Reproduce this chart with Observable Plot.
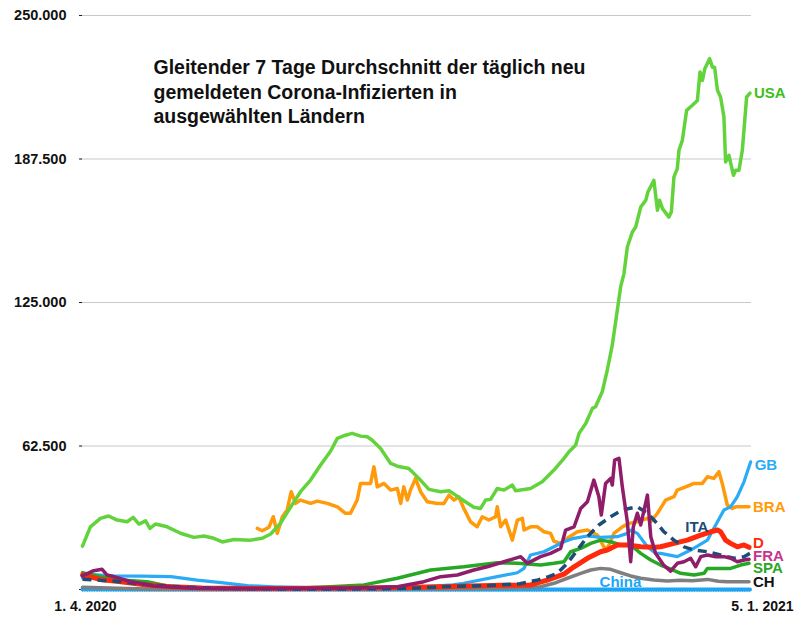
<!DOCTYPE html>
<html>
<head>
<meta charset="utf-8">
<script src="https://cdn.jsdelivr.net/npm/d3@7"></script>
<script src="https://cdn.jsdelivr.net/npm/@observablehq/plot@0.6"></script>
<style>
  html, body { margin: 0; padding: 0; background: #fff; }
  #chart svg { display: block; }
  #chart text { font-family: "Liberation Sans", Arial, Helvetica, sans-serif; }
</style>
</head>
<body>
<div id="chart"></div>
<script>
// Tag seit 1. 4. 2020, gleitender 7-Tage-Durchschnitt
const startDate = "2020-04-01";
const endDate = "2021-01-05";
const yTicks = [0, 62500, 125000, 187500, 250000];
const xTickLabels = ["1. 4. 2020", "5. 1. 2021"];
const title = "Gleitender 7 Tage Durchschnitt der täglich neu\ngemeldeten Corona-Infizierten in\nausgewählten Ländern";

const USA = [[0,18900],[3.3,27300],[7.5,31000],[10.9,32000],[14.5,30250],[18.7,29500],[21.2,31400],[23.6,28500],[26.4,29900],[28.2,26600],[30.5,28500],[35.4,27300],[41,24500],[46.6,22700],[50.8,23300],[54.9,22300],[58.5,20700],[63.3,21800],[70.3,21500],[75.2,22300],[78.7,24150],[82.8,28800],[87,35800],[91.2,42600],[95.4,47650],[99.6,54200],[103.8,60300],[106.6,65800],[110,67200],[112.8,68000],[116.3,66800],[119.1,66500],[121.2,65000],[124.7,61400],[128.9,54900],[131.7,53700],[136.5,52700],[140.7,48400],[144.9,43600],[149.8,42600],[153.3,43000],[156.1,41100],[159.5,38650],[163.7,35800],[166.5,35300],[168.6,38950],[170.7,39250],[173.5,44000],[176.3,43300],[179.8,45500],[181.2,43000],[187.4,44000],[192.3,46900],[197.2,52000],[201.4,57100],[203.5,60000],[206.3,62900],[207.7,68000],[210.5,72300],[213.3,78900],[214.6,79600],[217.4,86100],[219.5,95500],[221.6,106400],[223.7,121600],[225.1,131800],[226.5,137600],[227.9,149200],[230,155700],[231.4,157900],[233.5,166600],[235.6,169500],[236.5,173100],[239,178200],[240.5,165200],[241.4,169500],[242.6,165900],[245.3,162200],[246.3,164400],[247.4,179700],[248.8,183300],[249.5,191300],[250.9,195600],[252.7,208700],[255.1,210900],[257.2,213000],[258.3,225400],[259.3,221700],[260.3,226800],[262.3,231200],[263.5,227500],[264.4,227500],[265.6,217400],[266.9,214500],[268.3,205800],[269,186200],[270.4,189100],[272.3,180400],[273.2,182600],[274.6,182600],[276,191300],[277.8,214500],[279.2,216200]];

const BRA = [[73.1,26600],[75.2,25600],[78,27100],[79.8,31700],[81.5,24450],[83.6,31700],[85.6,34600],[87.3,42600],[89.1,37500],[91.2,38950],[95.4,37500],[98.2,38500],[102.4,37500],[106.6,36000],[110,33200],[112.1,33200],[114.9,38950],[116.3,46200],[120.5,46200],[121.9,53400],[123.3,44700],[126.1,46200],[128.9,43300],[131.7,44000],[133.1,37500],[134.4,44700],[135.9,38950],[137.2,43300],[139.3,48400],[141.4,42600],[144.2,38200],[148.4,37500],[151.2,37500],[153.3,41100],[155.4,38950],[157.4,40400],[159.5,35300],[162.3,29500],[165.1,27300],[167.2,31700],[170,30250],[172.8,31700],[173.5,36000],[174.9,27300],[177,30250],[179.8,21500],[181.9,30250],[184,31000],[184.7,25900],[187.4,27300],[190.3,27300],[193,25150],[195.8,24450],[197.2,21000],[200,20100],[202.8,22300],[207,25150],[211.2,25900],[215.4,23700],[218.8,17200],[220.2,19400],[222.3,24450],[225.8,27300],[228.6,28800],[232.1,29500],[236.3,31000],[237.7,29500],[240.5,33200],[243.9,38950],[247.4,40400],[248.8,43300],[252.3,44700],[255.8,46200],[259.3,46200],[261.4,49100],[264.1,48400],[266.2,51300],[267.6,46200],[269.7,36800],[271.8,35300],[273.2,36000],[275.3,36000],[278.8,36000]];

const GB = [[0,5000],[4,6500],[13,5900],[25,5800],[37,5600],[48,4100],[58,3000],[69,1650],[80,1200],[100,700],[120,800],[140,1000],[155,2000],[159.5,2700],[173.5,5600],[181.9,7300],[184.7,9200],[187.4,15000],[193,16450],[197.2,18600],[201.4,20800],[205.5,22300],[211.2,23300],[216.7,22700],[223.7,23000],[227.9,24450],[229.3,25900],[232.1,24450],[236.3,18600],[239.7,15750],[241.8,15750],[248.8,14300],[254.4,17200],[261.4,21500],[265.6,29500],[268.3,34600],[271.1,36000],[273.9,40400],[276.7,46900],[279.5,55600]];

const D = [[0,6300],[7.5,4400],[16,3400],[27,2000],[37,1200],[50,700],[80,400],[120,700],[150,1200],[175,1800],[187.4,2000],[194.4,4100],[201.4,6700],[205.6,9900],[211.2,13600],[216.7,16450],[219.5,17200],[223.7,19400],[227.9,19400],[233.5,18600],[239,18350],[241.8,18600],[247.4,20100],[253,21500],[258.6,23700],[262.8,25150],[265.6,25900],[266.9,25150],[269,21500],[271.1,20100],[273.9,18600],[276.7,19400],[278.8,18350]];

const FRA = [[0,5900],[4.7,8200],[8.2,8800],[10.3,6300],[13.1,5600],[20,3500],[30,1500],[45,600],[60,400],[90,500],[110,600],[125,1000],[131.7,1200],[142.8,3400],[149.8,5600],[156.8,6300],[163.7,8500],[169.3,9900],[176.3,12100],[183.3,14300],[186.1,11400],[191.6,14300],[195.8,15750],[200,17900],[202.1,25900],[205.6,27300],[208.4,35300],[211.2,38200],[213.9,47650],[216,40400],[217,32400],[218.8,46200],[220.9,48400],[221.6,45500],[222.6,56350],[224.4,57100],[225.8,44700],[227.9,29500],[229.3,12100],[230.4,27300],[232.1,33200],[233.5,28100],[236.3,41100],[237.7,23000],[239.7,15750],[243.2,10500],[246,8000],[248.8,11400],[251.6,12100],[254.4,13600],[256.5,9900],[258.6,14300],[261.4,15000],[264.9,14300],[268.3,14300],[271.1,13600],[273.9,12100],[276.7,12850],[278.8,13150]];

const SPA = [[0,7300],[7.5,5600],[16,4100],[27,3400],[35,1650],[50,600],[70,400],[91,600],[103.8,1200],[117.7,2000],[131.7,4900],[145.6,8500],[159.5,9900],[173.5,11650],[181.9,11400],[191.6,10650],[197.2,11400],[201.4,12100],[204.2,16450],[208.4,17900],[212.6,20100],[216.7,21500],[220.9,20800],[225.1,19400],[229.3,19400],[233.5,15750],[237.7,12850],[241.8,10650],[245.3,9200],[250.2,7050],[255.8,6300],[260,7050],[261.4,9200],[266.9,9200],[271.1,9200],[275.3,10650],[278.8,11400]];

const ITA = [[0,4500],[15,3500],[30,1800],[45,900],[61,400],[91,200],[122,300],[140,600],[153,1300],[170,1700],[183,2500],[190,4000],[195,5600],[198.6,7050],[202.8,11400],[207,17200],[211.2,23000],[216,28100],[220.9,31700],[224.4,33850],[228.6,35300],[232.1,36000],[236.3,33200],[239.7,29500],[243.2,25150],[247.4,21500],[251.6,18600],[255.8,17200],[261.4,16450],[266.9,15000],[272.5,13600],[276.7,14300],[279.2,15750]];

const CH = [[0,1000],[15,500],[30,100],[100,100],[153,300],[175,500],[191.6,1200],[197.2,2700],[202.8,4900],[208.4,7050],[212.6,8500],[216.7,9200],[220.9,8800],[225.1,7300],[229.3,5900],[233.5,4900],[239,4100],[244.6,3700],[250,4000],[255,3800],[261.4,4400],[266,3600],[269.7,3400],[278.8,3400]];

const China = [[0,60],[30,10],[100,20],[200,20],[279.2,30]];

const countries = ["China","CH","BRA","GB","SPA","D","ITA","FRA","USA"];
const colors = {USA:"#63d33c", BRA:"#ff9a0b", GB:"#2aabf5", D:"#ff2a0c", FRA:"#8f1d69", SPA:"#27a824", ITA:"#1b4d78", CH:"#7f7f7f", China:"#1ba6f5"};
const labelColors = {USA:"#3cbf22", BRA:"#ff9a0b", GB:"#2aabf5", D:"#ff2a0c", FRA:"#c8358d", SPA:"#27a824", ITA:"#1b4d78", CH:"#111111", China:"#1ba6f5"};
// label anchors: [country, day, value]
const endLabels = [["USA",279.2,216200],["GB",279.5,54200],["BRA",278.8,35900],["D",278.8,20200],["FRA",278.8,14600],["SPA",278.8,9350],["CH",278.8,3260]];
const innerLabels = [["ITA",257,27200],["China",225,3300]];

const series = {USA, BRA, GB, D, FRA, SPA, ITA, CH, China};
const t0 = Date.parse(startDate + "T00:00:00Z");
const toDate = day => new Date(t0 + day * 864e5);
const start = toDate(0), end = new Date(Date.parse(endDate + "T00:00:00Z"));

const rows = [];
for (const c of countries) for (const [day, v] of series[c]) rows.push({country: c, date: toDate(day), value: v});
const toRow = ([c, day, v]) => ({country: c, date: toDate(day), value: v});
const dayTicks = d3.utcDay.range(start, d3.utcDay.offset(end, 1));

const de = d3.formatLocale({decimal: ",", thousands: ".", grouping: [3], currency: ["", ""]});
const fmt = de.format(",d");

const widths = {USA:3.5, BRA:3.5, GB:3.2, D:5, FRA:3.5, SPA:3.5, ITA:3.5, CH:3.5, China:4};

const lineMarks = countries.map(c => Plot.line(rows.filter(r => r.country === c), {
  x: "date", y: "value", stroke: colors[c], strokeWidth: widths[c],
  strokeLinejoin: "round", strokeLinecap: c === "ITA" ? "butt" : "round",
  strokeDasharray: c === "ITA" ? "9,6" : null
}));

const chart = Plot.plot({
  width: 800, height: 631,
  marginLeft: 82, marginRight: 51, marginTop: 15, marginBottom: 42,
  style: {fontFamily: "'Liberation Sans', Arial, Helvetica, sans-serif", background: "#fff", overflow: "visible"},
  x: {type: "utc", domain: [start, end]},
  y: {domain: [0, 250000]},
  marks: [
    Plot.ruleY(yTicks.filter(d => d > 0), {stroke: "#c9c9c9", strokeWidth: 1, insetLeft: -2, insetRight: -2}),
    Plot.axisY({ticks: yTicks, tickSize: 3, tickPadding: 13, tickFormat: d => d === 0 ? "" : fmt(d), fontSize: 14.5, fontWeight: "bold", fill: "#111", stroke: "#222", label: null}),
    Plot.axisX({ticks: dayTicks, tickSize: 3, tickFormat: () => "", stroke: "#9aa", label: null}),
    Plot.text([start], {x: d => d, frameAnchor: "bottom", dy: 17, dx: 3, text: () => xTickLabels[0], fontSize: 14, fontWeight: "bold", fill: "#111", lineAnchor: "middle"}),
    Plot.text([end], {x: d => d, frameAnchor: "bottom", dy: 17, dx: 13, text: () => xTickLabels[1], fontSize: 14, fontWeight: "bold", fill: "#111", lineAnchor: "middle"}),
    ...lineMarks,
    Plot.text(endLabels.map(toRow), {x: "date", y: "value", text: "country", fill: d => labelColors[d.country],
      textAnchor: "start", dx: 4, fontSize: 15, fontWeight: "bold"}),
    Plot.text(innerLabels.map(toRow), {x: "date", y: "value", text: "country", fill: d => labelColors[d.country],
      textAnchor: "middle", fontSize: 15, fontWeight: "bold"}),
    Plot.text([title], {frameAnchor: "top-left", text: d => d, dx: 71, dy: 41, textAnchor: "start", lineAnchor: "top", lineHeight: 1.26, fontSize: 19.5, fontWeight: "bold", fill: "#111"})
  ]
});
document.getElementById("chart").append(chart);
</script>
</body>
</html>
